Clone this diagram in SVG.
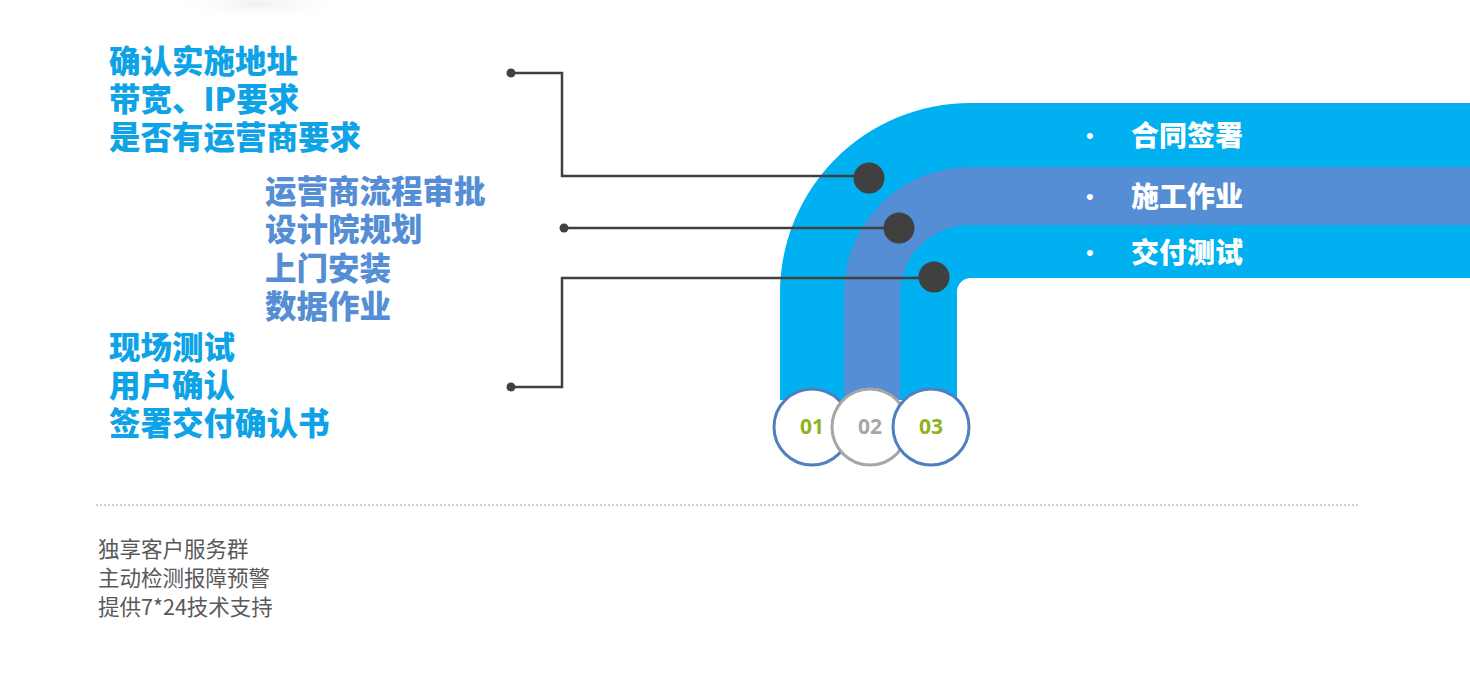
<svg xmlns="http://www.w3.org/2000/svg" width="1470" height="680" viewBox="0 0 1470 680">
<style>
.cjkb{font-family:"Noto Sans CJK SC","Noto Sans",sans-serif;font-weight:900;}
.t1{fill:#0EA3E6;font-size:31.5px;}
.t2{fill:#558ED5;font-size:31.5px;}
.tw{fill:#FFFFFF;font-size:28px;}
.bul{fill:#FFFFFF;font-family:"Liberation Sans",sans-serif;font-size:22px;}
.tg{fill:#595959;font-family:"Noto Sans CJK SC","Noto Sans",sans-serif;font-size:21.5px;}
.num{font-family:"Open Sans","Liberation Sans",sans-serif;font-weight:700;font-size:21px;text-anchor:middle;}
.conn{fill:none;stroke:#404040;stroke-width:2.5;}
.end{fill:#404040;}
.big{fill:#404040;}
</style>
<defs>
<radialGradient id="sh" cx="0.5" cy="0.5" r="0.5">
<stop offset="0" stop-color="#EEF0F3"/>
<stop offset="1" stop-color="#FFFFFF" stop-opacity="0"/>
</radialGradient>
</defs>
<rect width="1470" height="680" fill="#FFFFFF"/>
<ellipse cx="258" cy="4" rx="90" ry="18" fill="url(#sh)"/>

<g id="band">
<path d="M780,400 V293 A190,190 0 0 1 970,103 H1470 V278 H971 A14,14 0 0 0 957,292 V400 Z" fill="#00B0F0"/>
<path d="M844,400 V293 A126,126 0 0 1 970,167 H1470 V225 H970 A70,70 0 0 0 900,295 V400 Z" fill="#558ED5"/>
</g>

<g id="steps">
<text class="bul" x="1086" y="143">•</text>
<text class="cjkb tw" x="1131" y="146">合同签署</text>
<text class="bul" x="1086" y="204">•</text>
<text class="cjkb tw" x="1131" y="207">施工作业</text>
<text class="bul" x="1086" y="260">•</text>
<text class="cjkb tw" x="1131" y="263">交付测试</text>
</g>

<g id="connectors">
<polyline class="conn" points="511,73 562,73 562,176 870,176"/>
<circle class="end" cx="511" cy="73" r="4.5"/>
<polyline class="conn" points="564,228 899,228"/>
<circle class="end" cx="564" cy="228" r="4.5"/>
<polyline class="conn" points="933,278 562,278 562,387 511,387"/>
<circle class="end" cx="511" cy="387" r="4.5"/>
</g>

<g id="dot1"><circle class="big" cx="869" cy="178" r="15.5"/></g>
<g id="dot2"><circle class="big" cx="899" cy="228" r="15.5"/></g>
<g id="dot3"><circle class="big" cx="934" cy="277" r="15.5"/></g>

<g id="group1">
<text class="cjkb t1" x="109" y="73">确认实施地址</text>
<text class="cjkb t1" x="109" y="111">带宽、IP要求</text>
<text class="cjkb t1" x="109" y="149">是否有运营商要求</text>
</g>
<g id="group2">
<text class="cjkb t2" x="265" y="203">运营商流程审批</text>
<text class="cjkb t2" x="265" y="241">设计院规划</text>
<text class="cjkb t2" x="265" y="280">上门安装</text>
<text class="cjkb t2" x="265" y="318">数据作业</text>
</g>
<g id="group3">
<text class="cjkb t1" x="109" y="359">现场测试</text>
<text class="cjkb t1" x="109" y="397">用户确认</text>
<text class="cjkb t1" x="109" y="435">签署交付确认书</text>
</g>

<g id="c01">
<circle cx="812" cy="427" r="38" fill="#FFFFFF" stroke="#4F7FBF" stroke-width="3"/>
<text class="num" x="812" y="434" fill="#8DB31E">01</text>
</g>
<g id="c02">
<circle cx="870" cy="427" r="38" fill="#FFFFFF" stroke="#A6A6A6" stroke-width="3"/>
<text class="num" x="870" y="434" fill="#A6A6A6">02</text>
</g>
<g id="c03">
<circle cx="931" cy="427" r="38" fill="#FFFFFF" stroke="#4F7FBF" stroke-width="3"/>
<text class="num" x="931" y="434" fill="#8DB31E">03</text>
</g>

<line x1="96" y1="505" x2="1360" y2="505" stroke="#BFBFBF" stroke-width="1.5" stroke-dasharray="2,2"/>

<g id="service">
<text class="tg" x="98" y="557">独享客户服务群</text>
<text class="tg" x="98" y="586">主动检测报障预警</text>
<text class="tg" x="98" y="615">提供7*24技术支持</text>
</g>
</svg>
